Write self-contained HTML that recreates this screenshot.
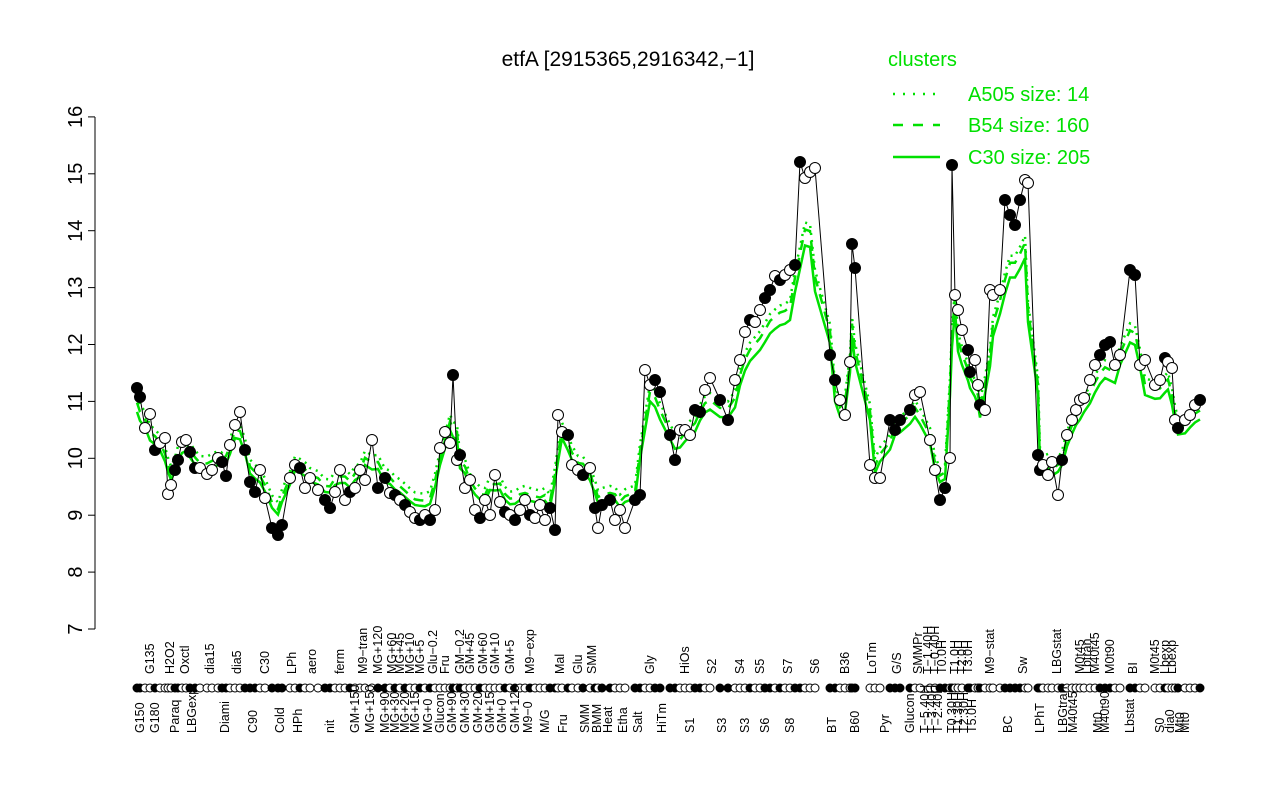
<!DOCTYPE html>
<html><head><meta charset="utf-8"><style>
html,body{margin:0;padding:0;background:#fff;}
svg{display:block;font-family:"Liberation Sans",sans-serif;}
</style></head><body>
<svg id="s" width="1280" height="800" viewBox="0 0 1280 800" xmlns="http://www.w3.org/2000/svg">
<text x="628" y="66" font-size="21" text-anchor="middle">etfA [2915365,2916342,−1]</text>
<g stroke="#000" stroke-width="1">
<line x1="95" y1="117" x2="95" y2="629"/>
</g>
<g id="yt"></g>
<g id="green" fill="none" stroke="#00e000" stroke-width="2.5"></g>
<g id="data"></g>
<g id="xl" font-size="12.5"></g>
<g font-size="20" fill="#00e000">
<text x="888" y="66">clusters</text>
<line x1="893" y1="94" x2="940" y2="94" stroke="#00e000" stroke-width="2.5" stroke-dasharray="2,8"/>
<text x="968" y="101">A505 size: 14</text>
<line x1="893" y1="125" x2="940" y2="125" stroke="#00e000" stroke-width="2.5" stroke-dasharray="10,10"/>
<text x="968" y="132">B54 size: 160</text>
<line x1="893" y1="157" x2="940" y2="157" stroke="#00e000" stroke-width="2.5"/>
<text x="968" y="164">C30 size: 205</text>
</g>
</svg>
<script>
const NS="http://www.w3.org/2000/svg";
function el(t,a,p,txt){const e=document.createElementNS(NS,t);for(const k in a)e.setAttribute(k,a[k]);if(txt!==undefined)e.textContent=txt;p.appendChild(e);return e;}
const yt=document.getElementById('yt');
for(let v=7;v<=16;v++){const y=629-(v-7)*56.9;el('line',{x1:88,x2:95,y1:y,y2:y,stroke:'#000'},yt);
el('text',{x:0,y:0,'font-size':20,'text-anchor':'middle',transform:`translate(82,${y}) rotate(-90)`},yt,String(v));}
const P=[[137,388,1],[140,397,1],[145,428,0],[150,414,0],[155,450,1],[160,443,0],[165,438,0],[168,494,0],[171,485,0],[175,470,1],[178,460,1],[182,442,0],[186,440,0],[190,452,1],[195,468,1],[200,468,0],[207,474,0],[212,470,0],[218,458,0],[222,462,1],[226,476,1],[230,445,0],[235,425,0],[240,412,0],[245,450,1],[250,482,1],[255,492,1],[260,470,0],[265,498,0],[272,528,1],[278,535,1],[282,525,1],[290,478,0],[295,465,0],[300,468,1],[305,488,0],[310,478,0],[318,490,0],[325,500,1],[330,508,1],[335,492,0],[340,470,0],[345,500,0],[350,492,1],[355,488,0],[360,470,0],[365,480,0],[372,440,0],[378,488,1],[385,478,1],[390,493,0],[395,495,1],[400,500,0],[405,505,1],[410,512,0],[415,518,0],[420,520,1],[425,515,0],[430,520,1],[435,510,0],[440,448,0],[445,432,0],[450,443,0],[453,375,1],[457,460,0],[460,455,1],[465,488,0],[470,480,0],[475,510,0],[480,518,1],[485,500,0],[490,515,0],[495,475,0],[500,502,0],[505,512,1],[510,515,0],[515,520,1],[520,510,0],[525,500,0],[530,515,1],[535,518,0],[540,505,0],[545,520,0],[550,508,1],[555,530,1],[558,415,0],[562,432,0],[568,435,1],[572,465,0],[578,470,0],[583,475,1],[590,468,0],[595,508,1],[598,528,0],[602,505,1],[610,500,1],[615,520,0],[620,510,0],[625,528,0],[635,500,1],[640,495,1],[645,370,0],[650,385,0],[655,380,1],[660,392,1],[670,435,1],[675,460,1],[680,430,0],[685,430,0],[690,435,0],[695,410,1],[700,412,1],[705,390,0],[710,378,0],[720,400,1],[728,420,1],[735,380,0],[740,360,0],[745,332,0],[750,320,1],[755,322,0],[760,310,0],[765,298,1],[770,290,1],[775,276,0],[780,280,1],[785,275,0],[790,270,0],[795,265,1],[800,162,1],[805,178,0],[810,172,0],[815,168,0],[830,355,1],[835,380,1],[840,400,0],[845,415,0],[850,362,0],[852,244,1],[855,268,1],[870,465,0],[875,478,0],[880,478,0],[890,420,1],[895,430,1],[900,420,1],[910,410,1],[915,395,0],[920,392,0],[930,440,0],[935,470,0],[940,500,1],[945,488,1],[950,458,0],[952,165,1],[955,295,0],[958,310,0],[962,330,0],[968,350,1],[970,372,1],[975,360,0],[978,385,0],[980,405,1],[985,410,0],[990,290,0],[993,295,0],[1000,290,0],[1005,200,1],[1010,215,1],[1015,225,1],[1020,200,1],[1025,180,0],[1028,183,0],[1038,455,1],[1040,470,1],[1043,465,0],[1048,475,0],[1052,462,0],[1058,495,0],[1062,460,1],[1067,435,0],[1072,420,0],[1076,410,0],[1080,400,0],[1084,398,0],[1090,380,0],[1095,365,0],[1100,355,1],[1105,345,1],[1110,342,1],[1115,365,0],[1120,355,0],[1130,270,1],[1135,275,1],[1140,365,0],[1145,360,0],[1155,385,0],[1160,380,0],[1165,358,1],[1168,362,0],[1172,368,0],[1175,420,0],[1178,428,1],[1185,420,0],[1190,415,0],[1195,405,0],[1200,400,1]];
const g=document.getElementById('green');
function gl(off,dash,k){let pts=P.map((p,i)=>{let s=0,c=0;for(let j=Math.max(0,i-1);j<=Math.min(P.length-1,i+1);j++){s+=P[j][1];c++;}let y=s/c;y=y+(470-y)*k+off;return p[0]+','+y.toFixed(1);});
const a={points:pts.join(' ')};if(dash)a['stroke-dasharray']=dash;el('polyline',a,g);}
gl(-14,'2,5',0.22);gl(-7,'10,8',0.22);gl(0,null,0.25);
const d=document.getElementById('data');
el('polyline',{points:P.map(p=>p[0]+','+p[1]).join(' '),fill:'none',stroke:'#000','stroke-width':1},d);
for(const p of P)el('circle',{cx:p[0],cy:p[1],r:5.5,fill:p[2]?'#000':'#fff',stroke:'#000','stroke-width':1},d);
const xl=document.getElementById('xl');
for(const p of P)el('circle',{cx:p[0],cy:688,r:4,fill:p[2]?'#000':'#fff',stroke:'#000','stroke-width':1},xl);
const up=[[150,'G135'],[170,'H2O2'],[185,'Oxctl'],[210,'dia15'],[237,'dia5'],[265,'C30'],[292,'LPh'],[312,'aero'],[340,'ferm'],[363,'M9−tran'],[378,'MG+120'],[392,'MG+60'],[400,'MG+45'],[410,'MG+10'],[420,'MG+5'],[433,'Glu−0.2'],[445,'Fru'],[460,'GM−0.2'],[470,'GM+45'],[483,'GM+60'],[495,'GM+10'],[510,'GM+5'],[530,'M9−exp'],[560,'Mal'],[578,'Glu'],[592,'SMM'],[650,'Gly'],[685,'HiOs'],[712,'S2'],[740,'S4'],[760,'S5'],[788,'S7'],[815,'S6'],[845,'B36'],[872,'LoTm'],[897,'G/S'],[918,'SMMPr'],[928,'T−1.40H'],[935,'T−0.40H'],[942,'T0.0H'],[955,'T1.0H'],[962,'T2.0H'],[968,'T3.0H'],[990,'M9−stat'],[1023,'Sw'],[1057,'LBGstat'],[1080,'M0t45'],[1087,'Lbtran'],[1095,'M40t45'],[1110,'M0t90'],[1133,'BI'],[1155,'M0t45'],[1165,'Lbexp'],[1172,'Lbexp']];
const lo=[[140,'G150'],[155,'G180'],[175,'Paraq'],[192,'LBGexp'],[225,'Diami'],[253,'C90'],[280,'Cold'],[298,'HPh'],[330,'nit'],[355,'GM+150'],[370,'MG+150'],[385,'MG+90'],[395,'MG+30'],[405,'MG+20'],[415,'MG+15'],[428,'MG+0'],[440,'Glucon'],[452,'GM+90'],[465,'GM+30'],[478,'GM+20'],[490,'GM+15'],[502,'GM+0'],[515,'GM+120'],[528,'M9−0'],[545,'M/G'],[563,'Fru'],[585,'SMM'],[597,'BMM'],[608,'Heat'],[623,'Etha'],[638,'Salt'],[662,'HiTm'],[690,'S1'],[722,'S3'],[745,'S3'],[765,'S6'],[790,'S8'],[832,'BT'],[855,'B60'],[885,'Pyr'],[910,'Glucon'],[925,'T−5.40H'],[932,'T−3.40H'],[938,'T−2.40H'],[952,'T0.30H'],[958,'T1.30H'],[964,'T2.30H'],[972,'T5.0H'],[1008,'BC'],[1040,'LPhT'],[1063,'LBGtran'],[1073,'M40t45'],[1098,'Mt0'],[1105,'M40t90'],[1130,'Lbstat'],[1160,'S0'],[1170,'dia0'],[1180,'Mt0'],[1185,'Mt0']];
for(const [x,t] of up)el('text',{transform:`translate(${x+4},674) rotate(-90)`},xl,t);
for(const [x,t] of lo)el('text',{transform:`translate(${x+4},733) rotate(-90)`},xl,t);
</script>
</body></html>
